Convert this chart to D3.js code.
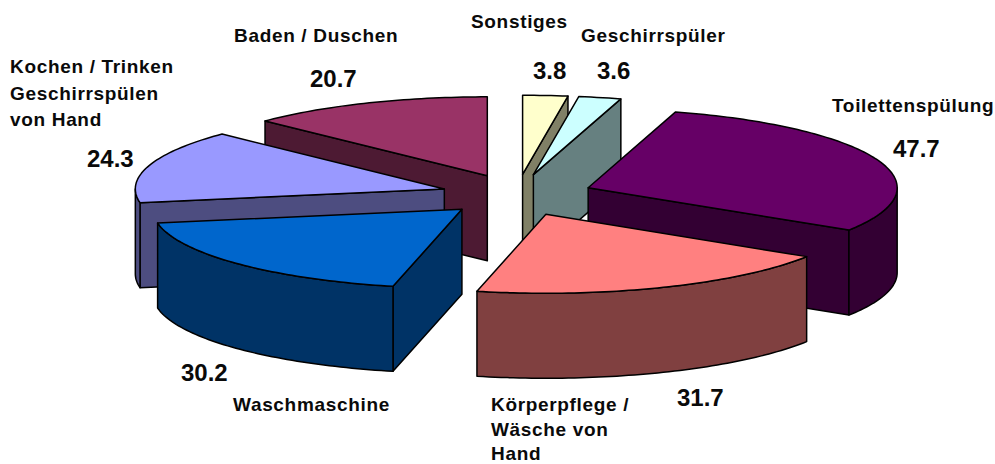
<!DOCTYPE html>
<html><head><meta charset="utf-8">
<style>html,body{margin:0;padding:0;background:#fff}svg{display:block}text{font-family:"Liberation Sans",Arial,sans-serif;font-weight:bold;fill:#0a0a0a}</style>
<script src="https://cdnjs.cloudflare.com/ajax/libs/d3/7.8.5/d3.min.js"></script>
</head><body><svg id="c" width="995" height="464"></svg>
<script>
const categories = ["Sonstiges","Geschirrspüler","Toilettenspülung","Körperpflege / Wäsche von Hand","Waschmaschine","Kochen / Trinken Geschirrspülen von Hand","Baden / Duschen"];
const values = [3.8,3.6,47.7,31.7,30.2,24.3,20.7];
const valueLabels = ["3.8","3.6","47.7","31.7","30.2","24.3","20.7"];
const topColors = ["#FFFFCC","#CCFFFF","#660066","#FF8080","#0066CC","#9999FF","#993366"];
const wallColors = ["#808066","#668080","#330033","#804040","#003366","#4D4D80","#4D1A33"];
const nameLines = [["Sonstiges"],["Geschirrspüler"],["Toilettenspülung"],["Körperpflege /","Wäsche von","Hand"],["Waschmaschine"],["Kochen / Trinken","Geschirrspülen","von Hand"],["Baden / Duschen"]];
// layout
const nameAnchor = [[471,28],[581,42],[832,112],[491,411],[233,411],[10,73],[234,42]];
const nameGaps = [0,0,0,24.5,0,26.5,0];
const valueAnchor = [[533,79],[597,79],[893,157],[677,406],[181,381],[87,167],[310,87]];
const nameSize = 19, nameTrack = 0.67, valueSize = 24;
const cx = 517, cy = 195, rx = 309, ry = 79, ex = 76, ey = 20.8, depth = 85;

const svg = d3.select("#c");
const arcs = d3.pie().sort(null).value(d => d).startAngle(0).endAngle(2*Math.PI)(values);
const sx = d3.scaleLinear().domain([-1,1]).range([-rx,rx]);
const sy = d3.scaleLinear().domain([-1,1]).range([-ry,ry]);
const line = d3.line().x(d=>d[0]).y(d=>d[1]);
const closed = pts => line(pts)+"Z";

function rim(a0,a1,ox,oy,dz=0){
  const n = Math.max(2,Math.ceil((a1-a0)/0.02));
  return d3.range(n+1).map(i=>{const a=a0+(a1-a0)*i/n;return [ox+sx(Math.sin(a)),oy-sy(Math.cos(a))+dz];});
}
const order = arcs.map((a,i)=>({a,i,mid:(a.startAngle+a.endAngle)/2}))
  .sort((p,q)=>Math.cos(q.mid)-Math.cos(p.mid));

const g = svg.append("g").attr("stroke","#000").attr("stroke-width",1.5).attr("stroke-linejoin","round");
order.forEach(({a,i,mid})=>{
  const ox = cx+ex*Math.sin(mid), oy = cy-ey*Math.cos(mid);
  const s = a.startAngle, e = a.endAngle;
  const wall = d => g.append("path").attr("d",closed(d)).attr("fill",wallColors[i]);
  const edge = ang => {const p=rim(ang,ang,ox,oy)[0];return [[ox,oy],p,[p[0],p[1]+depth],[ox,oy+depth]];};
  if(Math.sin(s)<-1e-6) wall(edge(s));
  if(Math.sin(e)>1e-6) wall(edge(e));
  const w0=Math.max(s,Math.PI/2), w1=Math.min(e,3*Math.PI/2);
  if(w1>w0) wall(rim(w0,w1,ox,oy).concat(rim(w0,w1,ox,oy,depth).reverse()));
  g.append("path").attr("d",closed([[ox,oy]].concat(rim(s,e,ox,oy)))).attr("fill",topColors[i]);
});

nameLines.forEach((ls,i)=>ls.forEach((t,j)=>{
  svg.append("text").attr("x",nameAnchor[i][0]).attr("y",nameAnchor[i][1]+j*nameGaps[i])
    .attr("font-size",nameSize).attr("letter-spacing",nameTrack).text(t);
}));
valueLabels.forEach((t,i)=>{
  svg.append("text").attr("x",valueAnchor[i][0]).attr("y",valueAnchor[i][1]).attr("font-size",valueSize).text(t);
});
</script></body></html>
